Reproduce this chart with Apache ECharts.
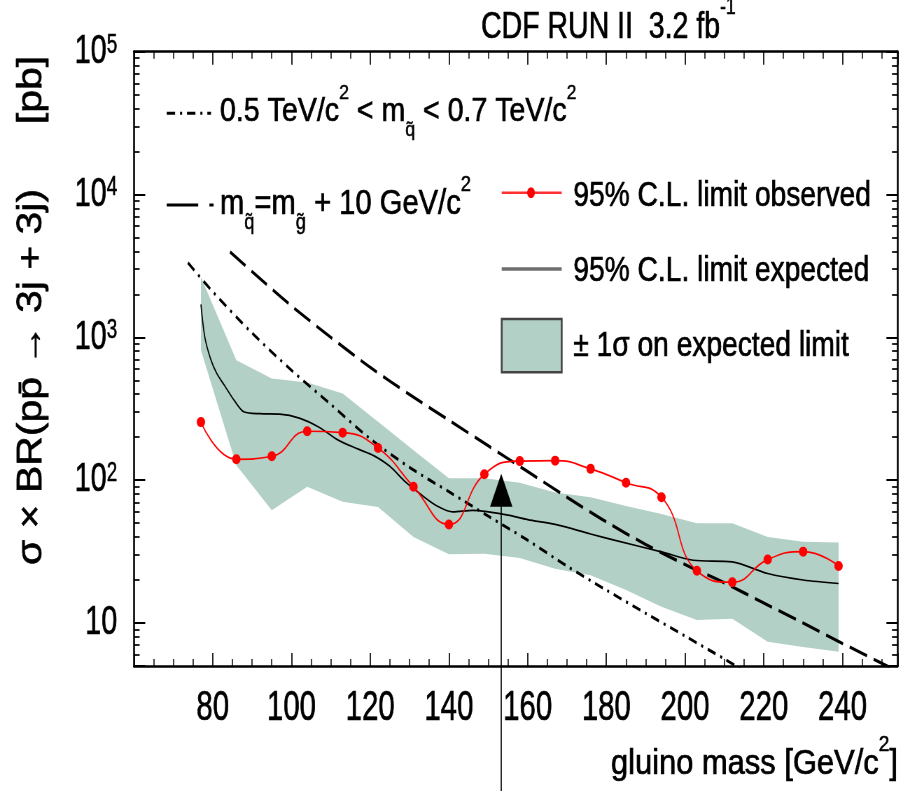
<!DOCTYPE html>
<html>
<head>
<meta charset="utf-8">
<script src="https://cdn.jsdelivr.net/npm/echarts@6/dist/echarts.min.js"></script>
<style>
  html, body { margin: 0; padding: 0; overflow: hidden; background: #fff; }
  /* the original figure is squeezed sideways: draw wide, squeeze with css */
  #chart { width: 1288.57px; height: 791px; transform: scaleX(0.7); transform-origin: 0 0; }
</style>
</head>
<body>
<div id="chart"></div>
<script>
const SQUEEZE = 0.7;
const FONT = '"Liberation Sans", Arial, Helvetica, sans-serif';
const BAND = '#b2d0c6';

// observed 95% C.L. limit (pb)
const obsMass = [77, 86, 95, 104, 113, 122, 131, 140, 149, 158, 167, 176, 185, 194, 203, 212, 221, 230, 239];
const obsLimit = [255, 140, 147, 220, 215, 168, 90, 49, 110, 136, 137, 120, 96, 76, 23.2, 19.3, 27.8, 31.6, 25.1];

// expected 95% C.L. limit
const expMass = [77, 78, 79.5, 81, 83, 85.5, 88, 92, 97, 102, 107, 112, 117, 121, 125, 129, 133, 137, 141, 146,
  150, 155, 160, 167, 176, 182, 194, 202, 212, 221, 230, 239];
const expLimit = [1700, 1000, 700, 560, 460, 360, 300, 292, 290, 272, 235, 190, 165, 148, 125, 97, 79, 66, 60, 61.5,
  60, 57, 53, 49, 42, 38, 31.5, 27.5, 26.8, 22.2, 20, 18.9];

// +-1 sigma band on the expected limit
const bandMass = obsMass;
const bandHigh = [2650, 692, 515, 483, 404, 256, 162, 103, 103, 96, 82, 76, 66, 58, 50, 50, 40, 37, 36.6];
const bandLow = [813, 127, 61.6, 90, 70.5, 65, 40, 30.3, 30.5, 28.5, 24, 21.6, 17, 13, 10.5, 10.7, 7.4, 6.8, 6.3];

// theory: 0.5 < m_squark < 0.7 TeV (dash-dot)
const dashDotMass = [73.7, 80, 90, 100, 110, 120, 130, 140, 150, 160, 170, 180, 190, 200, 210, 214];
const dashDotXsec = [3330, 2089, 1072, 589, 339, 195, 123, 83, 56, 38, 25, 17, 11.7, 8.1, 5.6, 4.8];

// theory: m_squark = m_gluino + 10 GeV (dashed)
const dashMass = [84.4, 90, 100, 110, 120, 130, 140, 150, 160, 170, 180, 190, 200, 210, 220, 230, 240, 252];
const dashXsec = [3970, 2884, 1660, 1000, 617, 398, 263, 174, 115, 76, 51, 35.5, 25.7, 19.1, 13.8, 10, 7.2, 4.9];

// mass limit arrow
const limitMass = 153.3;
const arrowTipXsec = 111;

const X = v => v / SQUEEZE; // picture pixels -> chart pixels (horizontal)

const chart = echarts.init(document.getElementById('chart'), null, { renderer: 'canvas' });

function massAxis(position, labels) {
  return {
    type: 'value', position, min: 60, max: 254, interval: 20,
    axisLine: { show: true, onZero: false, lineStyle: { color: '#000', width: 2.6 } },
    axisTick: { show: true, inside: true, length: 13, lineStyle: { color: '#000', width: 1.7 } },
    minorTick: { show: true, splitNumber: 4, length: 7, lineStyle: { color: '#000', width: 1.5 } },
    splitLine: { show: false },
    axisLabel: {
      show: labels, color: '#000', fontFamily: FONT, fontSize: 42, margin: 21,
      textBorderColor: '#000', textBorderWidth: 0.7,
      formatter: v => (v % 20 === 0 && v > 60) ? String(v) : ''
    }
  };
}

function xsecAxis(position, labels) {
  return {
    type: 'log', logBase: 10, position, min: 5, max: 100000,
    axisLine: { show: true, onZero: false, lineStyle: { color: '#000', width: 2.6 } },
    axisTick: { show: true, inside: true, length: 16, lineStyle: { color: '#000', width: 2 } },
    minorTick: { show: true, splitNumber: 9, length: 8, lineStyle: { color: '#000', width: 1.7 } },
    splitLine: { show: false },
    axisLabel: {
      show: labels, margin: 24,
      formatter: v => {
        const lg = Math.log10(v);
        const e = Math.round(lg);
        if (Math.abs(lg - e) > 1e-6) return '';
        return e === 1 ? '{b|10}' : '{b|10}{s|' + e + '}';
      },
      rich: {
        b: { fontFamily: FONT, fontSize: 41, color: '#000', lineHeight: 40, textBorderColor: '#000', textBorderWidth: 0.7 },
        s: { fontFamily: FONT, fontSize: 27, color: '#000', verticalAlign: 'top', lineHeight: 22, textBorderColor: '#000', textBorderWidth: 0.5 }
      }
    }
  };
}

function rich(size) {
  const ink = { fontFamily: FONT, fill: '#000', stroke: '#000', lineWidth: 0.7 };
  return {
    t: Object.assign({ fontSize: size, lineHeight: Math.round(size * 1.7) }, ink),
    sup: Object.assign({ fontSize: Math.round(size * 0.62), verticalAlign: 'top', lineHeight: Math.round(size * 0.8) }, ink, { lineWidth: 0.5 }),
    sub: Object.assign({ fontSize: Math.round(size * 0.62), verticalAlign: 'bottom', lineHeight: Math.round(size * 0.62) }, ink, { lineWidth: 0.5 })
  };
}

function text(x, y, str, size, scaleX, align, rotation, scaleY) {
  return {
    type: 'text', x, y, z: 20, scaleX: scaleX || 1, scaleY: scaleY || 1, rotation: rotation || 0,
    style: {
      text: str, rich: rich(size), fontFamily: FONT, fontSize: size, fill: '#000',
      align: align || 'left', verticalAlign: 'middle',
      textAlign: align || 'left', textVerticalAlign: 'middle'
    }
  };
}

const legend = [
  text(X(481), 28, '{t|CDF RUN II  3.2 fb}{sup|-1}', 37, 1.1),
  text(X(898), 764, '{t|gluino mass [GeV/c}{sup|2}{t|]}', 35, 1.26, 'right'),
  text(X(32), 377, '{t|σ × BR(pp̄ → 3j + 3j)}', 41, 1, 'center', Math.PI / 2, 1.2),
  text(X(32), 90, '{t|[pb]}', 41, 1, 'center', Math.PI / 2, 1.2),

  { type: 'line', z: 20, shape: { x1: X(166.7), y1: 113.3, x2: X(211), y2: 113.3 },
    style: { stroke: '#000', lineWidth: 3, lineDash: [12, 7, 3, 7] } },
  text(X(220), 112, '{t|0.5 TeV/c}{sup|2}{t| < m}{sub|q̃}{t| < 0.7 TeV/c}{sup|2}', 34, 1.2),

  { type: 'line', z: 20, shape: { x1: X(166.7), y1: 205, x2: X(214), y2: 205 },
    style: { stroke: '#000', lineWidth: 3, lineDash: [45, 16, 6, 100] } },
  text(X(220), 204, '{t|m}{sub|q̃}{t|=m}{sub|g̃}{t| + 10 GeV/c}{sup|2}', 35, 1.19),

  { type: 'line', z: 20, shape: { x1: X(501.7), y1: 192.7, x2: X(561.7), y2: 192.7 },
    style: { stroke: '#ff3030', lineWidth: 2.6 } },
  { type: 'circle', z: 21, shape: { cx: X(531), cy: 192.7, r: 5.5 }, style: { fill: '#ff0000' } },
  text(X(573.3), 196, '{t|95% C.L. limit observed}', 35, 1.15),

  { type: 'line', z: 20, shape: { x1: X(501.7), y1: 269, x2: X(561.7), y2: 269 },
    style: { stroke: '#6e6e6e', lineWidth: 3.5 } },
  text(X(573.3), 271, '{t|95% C.L. limit expected}', 35, 1.15),

  { type: 'rect', z: 20, shape: { x: X(501.7), y: 319, width: X(60), height: 53.3 },
    style: { fill: BAND, stroke: '#444', lineWidth: 2.6 } },
  text(X(573.3), 346, '{t|± 1σ on expected limit}', 35, 1.15)
];

const option = {
  animation: false,
  backgroundColor: '#fff',
  textStyle: { fontFamily: FONT },
  grid: { left: X(134), right: 1288.57 - X(897.3), top: 51.7, bottom: 125 },
  xAxis: [massAxis('bottom', true), massAxis('top', false)],
  yAxis: [xsecAxis('left', true), xsecAxis('right', false)],
  series: [
    {
      name: '± 1σ on expected limit',
      type: 'custom', z: 1, silent: true,
      data: bandMass.map((m, i) => [m, bandLow[i], bandHigh[i]]),
      encode: { x: 0, y: [1, 2] },
      renderItem(params, api) {
        if (params.dataIndex !== 0) return;
        const up = bandMass.map((m, i) => api.coord([m, bandHigh[i]]));
        const down = bandMass.map((m, i) => api.coord([m, bandLow[i]])).reverse();
        return { type: 'polygon', shape: { points: up.concat(down) }, style: { fill: BAND } };
      }
    },
    {
      name: '95% C.L. limit expected', type: 'line', z: 3, smooth: 0.3,
      data: expMass.map((m, i) => [m, expLimit[i]]),
      showSymbol: false, lineStyle: { color: '#000', width: 1.7 }
    },
    {
      name: '0.5 < m_sq < 0.7', type: 'line', z: 4, smooth: 0.3,
      data: dashDotMass.map((m, i) => [m, dashDotXsec[i]]),
      showSymbol: false, lineStyle: { color: '#000', width: 3, type: [12, 7, 3, 7] }
    },
    {
      name: 'm_sq = m_gl + 10', type: 'line', z: 4, smooth: 0.3,
      data: dashMass.map((m, i) => [m, dashXsec[i]]),
      showSymbol: false, lineStyle: { color: '#000', width: 3.2, type: [26, 10] }
    },
    {
      name: '95% C.L. limit observed', type: 'line', z: 5, smooth: 0.5,
      data: obsMass.map((m, i) => [m, obsLimit[i]]),
      symbol: 'circle', symbolSize: [12, 10],
      itemStyle: { color: '#ff0000' },
      lineStyle: { color: '#ff0000', width: 1.7 }
    }
  ],
  graphic: legend
};

chart.setOption(option);

// arrow at the gluino mass limit, placed through the axes
const tip = chart.convertToPixel({ xAxisIndex: 0, yAxisIndex: 0 }, [limitMass, arrowTipXsec]);
const headW = 16, headH = 33;
option.graphic = legend.concat([
  { type: 'line', z: 30, shape: { x1: tip[0], y1: tip[1] + headH - 2, x2: tip[0], y2: 791 },
    style: { stroke: '#000', lineWidth: 1.6 } },
  { type: 'polygon', z: 30,
    shape: { points: [[tip[0], tip[1]], [tip[0] - headW, tip[1] + headH], [tip[0] + headW, tip[1] + headH]] },
    style: { fill: '#000' } }
]);
chart.setOption(option, true);
</script>
</body>
</html>
